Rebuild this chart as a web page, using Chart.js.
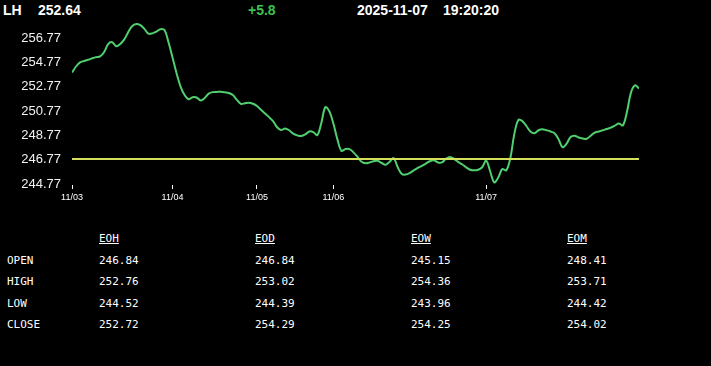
<!DOCTYPE html>
<html>
<head>
<meta charset="utf-8">
<script src="https://cdn.jsdelivr.net/npm/chart.js@4"></script>
<style>
  body { margin: 0; background: #000; width: 711px; height: 366px; overflow: hidden; position: relative; font-family: "Liberation Sans", Arial, sans-serif; }
  .hd { position: absolute; top: 3px; font-weight: bold; font-size: 14px; line-height: 14px; color: #fff; white-space: nowrap; }
  #chartBox { position: absolute; left: 0; top: 0; width: 711px; height: 210px; }
  .tb { position: absolute; font-family: "DejaVu Sans Mono", "Liberation Mono", monospace; font-size: 11px; line-height: 12px; color: #fff; white-space: nowrap; }
  .tb.h { text-decoration: underline; }
</style>
</head>
<body>
<div class="hd" style="left:3px">LH</div>
<div class="hd" id="last" style="left:38px"></div>
<div class="hd" id="chg" style="left:248px;color:#3fc14f"></div>
<div class="hd" style="left:357px">2025-11-07</div>
<div class="hd" style="left:443px">19:20:20</div>
<div id="chartBox"><canvas id="chart" width="711" height="210"></canvas></div>
<div id="table"></div>
<script>
const lastPrice = 252.64;
const prevClose = 246.84;

const dayLabels = ['11/03', '11/04', '11/05', '11/06', '11/07'];
const dayStartIdx = [0, 25, 46, 65, 103];

const yTicks = [244.77, 246.77, 248.77, 250.77, 252.77, 254.77, 256.77];

const prices = [
  253.95, 254.45, 254.79, 254.90, 255.00, 255.12, 255.22, 255.28, 255.65, 256.30,
  256.45, 256.12, 256.30, 256.68, 257.30, 257.78, 257.95, 257.85, 257.55, 257.15,
  257.18, 257.32, 257.52, 257.45, 256.45, 255.20, 253.90, 252.80, 252.10, 251.75,
  251.92, 251.90, 251.65, 251.85, 252.22, 252.34, 252.36, 252.37, 252.33, 252.27,
  252.10, 251.70, 251.37, 251.43, 251.47, 251.38, 251.20, 250.88, 250.58, 250.28,
  249.95, 249.45, 249.22, 249.35, 249.20, 248.92, 248.78, 248.72, 248.85, 249.10,
  249.05, 248.80, 249.80, 251.10, 250.75, 249.75, 248.45, 247.50, 247.65, 247.65,
  247.38, 247.00, 246.60, 246.48, 246.55, 246.65, 246.68, 246.50, 246.36, 246.60,
  246.90, 246.15, 245.60, 245.55, 245.68, 245.90, 246.10, 246.26, 246.45, 246.65,
  246.72, 246.55, 246.55, 246.85, 247.00, 246.85, 246.60, 246.40, 246.15, 245.95,
  245.90, 245.95, 246.15, 246.70, 245.80, 244.90, 245.30, 246.00, 245.90, 246.90,
  248.90, 250.05, 249.95, 249.55, 249.10, 248.95, 249.20, 249.28, 249.20, 249.10,
  248.95, 248.45, 247.80, 248.10, 248.65, 248.75, 248.60, 248.52, 248.50, 248.75,
  249.00, 249.10, 249.20, 249.30, 249.42, 249.58, 249.75, 249.60, 250.70, 252.30,
  252.90, 252.64
];

// summary table
const rowNames = ['OPEN', 'HIGH', 'LOW', 'CLOSE'];
const colNames = ['EOH', 'EOD', 'EOW', 'EOM'];
const eoh = [246.84, 252.76, 244.52, 252.72];
const eod = [246.84, 253.02, 244.39, 254.29];
const eow = [245.15, 254.36, 243.96, 254.25];
const eom = [248.41, 253.71, 244.42, 254.02];

document.getElementById('last').textContent = lastPrice.toFixed(2);
const change = lastPrice - prevClose;
document.getElementById('chg').textContent = (change >= 0 ? '+' : '') + change.toFixed(1);

// build the table as positioned text
const tbl = document.getElementById('table');
const colX = [99, 255, 411, 567];
const rowY = [255, 276, 298, 319];
function addCell(txt, x, y, cls) {
  const d = document.createElement('div');
  d.className = 'tb' + (cls ? ' ' + cls : '');
  d.style.left = x + 'px';
  d.style.top = y + 'px';
  d.textContent = txt;
  tbl.appendChild(d);
}
colNames.forEach((c, i) => addCell(c, colX[i], 233, 'h'));
const cols = [eoh, eod, eow, eom];
rowNames.forEach((r, j) => {
  addCell(r, 7, rowY[j]);
  cols.forEach((col, i) => addCell(col[j].toFixed(2), colX[i], rowY[j]));
});

Chart.defaults.font.family = '"Liberation Sans", Arial, sans-serif';
Chart.defaults.color = '#fff';

const ctx = document.getElementById('chart').getContext('2d');

new Chart(ctx, {
  type: 'line',
  data: {
    datasets: [
      {
        label: 'ref',
        data: prices.map((v, i) => ({ x: i, y: prevClose })),
        borderColor: '#d4df5c',
        borderWidth: 2,
        pointRadius: 0,
        tension: 0,
        order: 0
      },
      {
        label: 'LH',
        data: prices.map((v, i) => ({ x: i, y: v })),
        borderColor: '#4fcf6e',
        borderWidth: 2,
        pointRadius: 0,
        tension: 0.35,
        order: 1
      }
    ]
  },
  options: {
    responsive: false,
    animation: false,
    layout: { padding: { left: 0, right: 72, top: 20, bottom: 0 } },
    plugins: { legend: { display: false }, tooltip: { enabled: false } },
    scales: {
      x: {
        type: 'linear',
        min: 0,
        max: prices.length - 1,
        afterBuildTicks: (scale) => {
          scale.ticks = dayStartIdx.map(v => ({ value: v }));
        },
        afterFit: (scale) => { scale.height = 25; },
        ticks: {
          autoSkip: false,
          maxRotation: 0,
          padding: 3,
          color: '#fff',
          font: { size: 9 },
          callback: (value) => {
            const k = dayStartIdx.indexOf(value);
            return k >= 0 ? dayLabels[k] : '';
          }
        },
        grid: { drawOnChartArea: false, drawTicks: true, tickLength: 4, color: '#fff' },
        border: { display: false }
      },
      y: {
        min: 244.69,
        max: 258.28,
        afterBuildTicks: (scale) => {
          scale.ticks = yTicks.map(v => ({ value: v }));
        },
        afterFit: (scale) => { scale.width = 72; },
        ticks: {
          padding: 11,
          color: '#f2f2f2',
          font: { size: 13 },
          callback: (value) => value.toFixed(2)
        },
        grid: { display: false, drawTicks: false },
        border: { display: false }
      }
    }
  }
});
</script>
</body>
</html>
